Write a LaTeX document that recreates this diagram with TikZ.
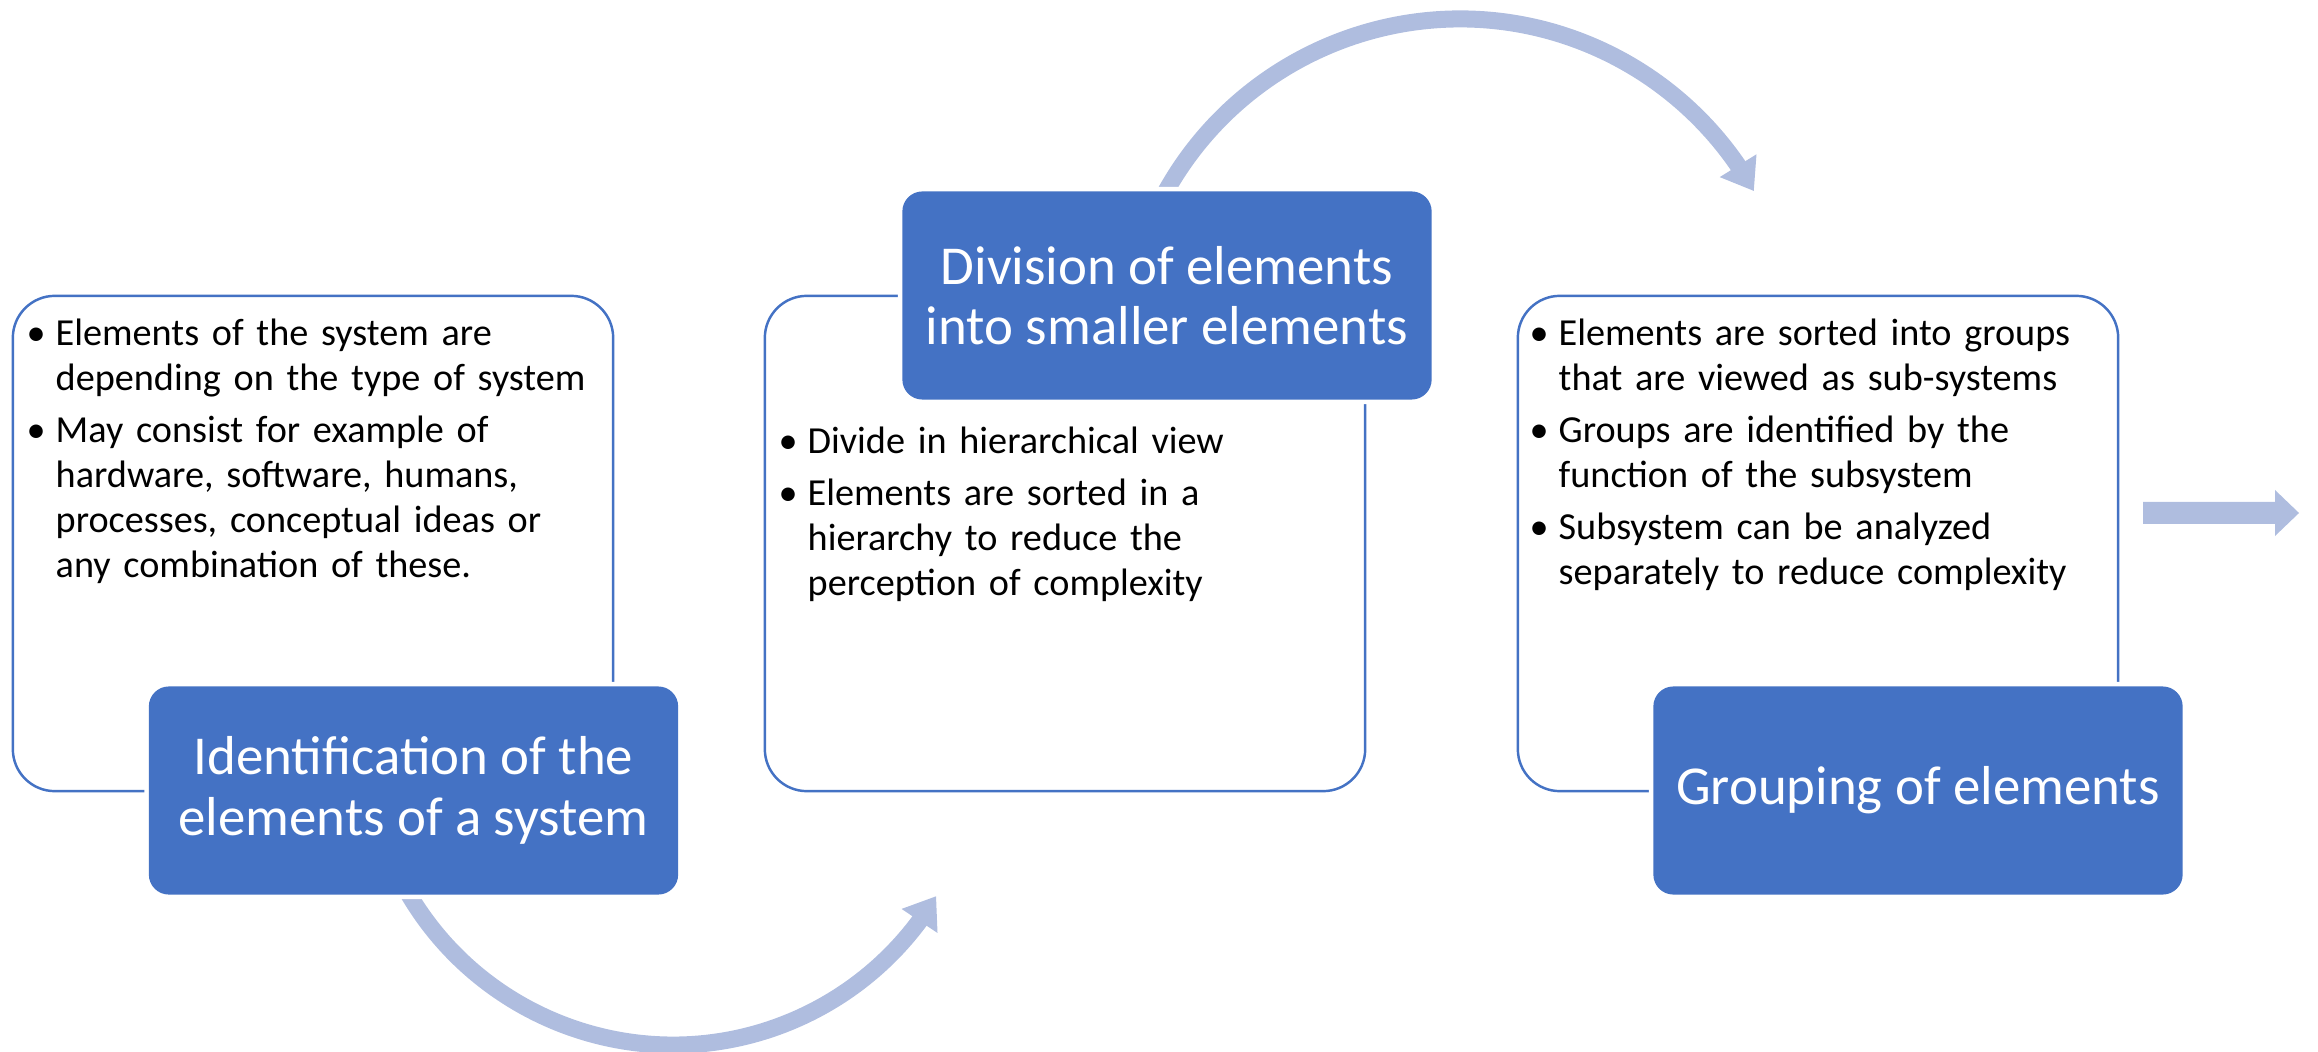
\documentclass[tikz,border=0pt]{standalone}
\usepackage{fontspec}
\setmainfont{Carlito}
\usetikzlibrary{arrows.meta,bending}
\definecolor{accent}{HTML}{4472C4}
\definecolor{arrowc}{RGB}{175,189,223}
\newlength\bhang
\setlength\bhang{8.25pt}
\newcommand\bitem{\par\noindent\hangindent=\bhang\hangafter=1\makebox[\bhang][l]{\textbullet}}
\newcommand\bgap{\par\vspace{2pt}}
\begin{document}
\begin{tikzpicture}[x=0.01cm,y=-0.01cm,
  wbox/.style={draw=accent, line width=0.7pt, rounded corners=0.42cm, fill=white,
    minimum width=6cm, minimum height=4.95cm, inner sep=0pt},
  bbox/.style={fill=accent, rounded corners=0.2cm, minimum width=5.29cm, minimum height=2.08cm,
    inner sep=0pt, text=white, align=center, font=\fontsize{15.6pt}{17.2pt}\selectfont,
    preaction={draw=white, line width=2.6pt}},
  btext/.style={font=\fontsize{10.87pt}{12.8pt}\selectfont, text width=5.8cm, align=left,
    inner sep=0pt, anchor=base west},
  arcarrow/.style={draw=arrowc, line width=4.84pt, -{Triangle[length=8.5pt,width=11.7pt]}},
  blockarrow/.style={fill=arrowc, draw=none}
]
\useasboundingbox (0,0) rectangle (2318,1052);

% curved arrows (drawn first, partly hidden under the blue boxes)
\coordinate (c1) at (673,738);
\coordinate (c2) at (1460,356);
\draw[arcarrow] (c1) ++(155:307) arc[start angle=155, end angle=31, radius=307];
\draw[arcarrow] (c2) ++(205:337) arc[start angle=205, end angle=330.7, radius=337];

% white boxes
\node[wbox] (w1) at (313,543.5) {};
\node[wbox] (w2) at (1065,543.5) {};
\node[wbox] (w3) at (1818,543.5) {};

% blue boxes
\node[bbox] (b1) at (413.5,790.5) {Identification of the\\elements of a system};
\node[bbox] (b2) at (1167,295.5) {Division of elements\\into smaller elements};
\node[bbox] (b3) at (1918,790.5) {Grouping of elements};

% bullet texts
\node[btext] (t1) at (26,300) {\bitem Elements of the system are\newline depending on the type of system\bgap
\bitem May consist for example of\newline hardware, software, humans,\newline processes, conceptual ideas or\newline any combination of these.\par};
\node[btext] (t2) at (778,408) {\bitem Divide in hierarchical view\bgap
\bitem Elements are sorted in a\newline hierarchy to reduce the\newline perception of complexity\par};
\node[btext] (t3) at (1529,300) {\bitem Elements are sorted into groups\newline that are viewed as sub-systems\bgap
\bitem Groups are identified by the\newline function of the subsystem\bgap
\bitem Subsystem can be analyzed\newline separately to reduce complexity\par};

% right block arrow
\fill[blockarrow] (2143,502) -- (2275,502) -- (2275,490) -- (2299,513) -- (2275,536) -- (2275,524) -- (2143,524) -- cycle;
\end{tikzpicture}
\end{document}
